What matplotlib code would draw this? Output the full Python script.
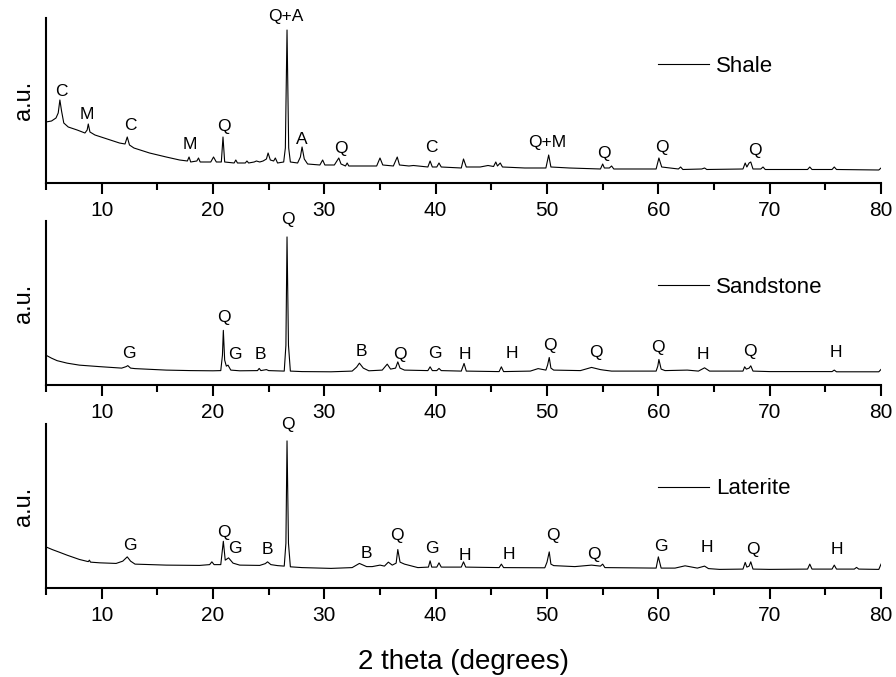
import numpy as np
import matplotlib
matplotlib.use("Agg")
import matplotlib.pyplot as plt
from matplotlib.ticker import MultipleLocator

plt.rcParams['font.family'] = ['Liberation Sans', 'DejaVu Sans']

# %% data: (2 theta, intensity a.u.)
shale = [(5.0, 61), (5.5, 62), (5.9, 65), (6.1, 70), (6.25, 83), (6.4, 72), (6.6, 60), (7.0, 56),
         (7.8, 53), (8.5, 50), (8.7, 53), (8.8, 59), (8.95, 51), (9.4, 48), (10.5, 44), (11.6, 40),
         (12.1, 39), (12.3, 46), (12.5, 38), (12.9, 35), (14.3, 30), (15.8, 26), (17.0, 23), (17.7, 22),
         (17.85, 26), (18.0, 21), (18.55, 22), (18.7, 25), (18.85, 21), (19.8, 21), (20.05, 26), (20.3, 21),
         (20.75, 21), (20.9, 46), (21.05, 21), (21.9, 20), (22.05, 23), (22.2, 20), (22.9, 20), (23.05, 22),
         (23.2, 20), (23.7, 21), (23.9, 22), (24.2, 21), (24.5, 22), (24.8, 24), (24.95, 30), (25.15, 23),
         (25.45, 22), (25.6, 25), (25.8, 20), (26.35, 21), (26.5, 35), (26.65, 153), (26.8, 35), (26.95, 21),
         (27.6, 20), (27.85, 26), (28.0, 36), (28.2, 24), (28.5, 19), (29.6, 18), (29.85, 23), (30.05, 18),
         (30.9, 18), (31.3, 25), (31.5, 19), (31.9, 17), (32.05, 20), (32.2, 17), (34.7, 17), (35.0, 25),
         (35.25, 18), (36.2, 17), (36.55, 26), (36.75, 18), (37.6, 17), (38.0, 17.5), (39.3, 16), (39.5, 22),
         (39.7, 16), (40.1, 16), (40.3, 20), (40.5, 16), (42.3, 15), (42.5, 24), (42.75, 16), (44.0, 16),
         (44.7, 17.5), (45.2, 16.5), (45.4, 21), (45.55, 17), (45.8, 20), (46.0, 16), (48.0, 15), (49.9, 15),
         (50.15, 28), (50.35, 16), (52.0, 15), (54.8, 14), (55.0, 19), (55.15, 15), (55.6, 15), (55.8, 17),
         (56.0, 14), (59.8, 14), (60.05, 25), (60.3, 16), (61.8, 14), (62.0, 16), (62.2, 13.5), (63.9, 14),
         (64.15, 15), (64.35, 13.5), (67.6, 14), (67.8, 20), (67.95, 16), (68.15, 20), (68.3, 21), (68.5, 14),
         (69.2, 14), (69.4, 16), (69.6, 13.5), (73.4, 13.5), (73.6, 16), (73.8, 13.5), (75.6, 13.5),
         (75.8, 16), (76.0, 13.5), (79.8, 13), (80.0, 15)]

sandstone = [(5.0, 30), (5.5, 27), (6.0, 24.5), (6.9, 22), (8.0, 20), (9.8, 18.5), (11.8, 17), (12.2, 18.5),
             (12.35, 19.5), (12.6, 17), (13.0, 16.5), (15.8, 15), (18.0, 14.5), (20.0, 14.3), (20.7, 14.5),
             (20.85, 30), (20.93, 55), (21.05, 25), (21.2, 19), (21.35, 20), (21.6, 15), (22.4, 14.3),
             (24.0, 14.5), (24.15, 16.7), (24.3, 14.5), (24.8, 15.5), (25.0, 14.5), (26.4, 14), (26.55, 40),
             (26.65, 149), (26.78, 40), (26.95, 14), (28.0, 13.5), (30.6, 13.3), (32.5, 14), (32.9, 18),
             (33.15, 22), (33.5, 17), (34.0, 14.3), (35.2, 15), (35.65, 21), (35.95, 16), (36.4, 17),
             (36.6, 23.3), (36.8, 17), (37.2, 15), (39.3, 14.5), (39.5, 18.3), (39.7, 14.5), (40.1, 14.5),
             (40.3, 16.7), (40.5, 14.5), (42.3, 14), (42.55, 21.7), (42.75, 14), (45.7, 13.5), (45.9, 18.3),
             (46.1, 13.5), (48.5, 14), (49.2, 16.5), (49.9, 15), (50.05, 20), (50.2, 27.7), (50.35, 17),
             (50.6, 15), (53.0, 14.5), (54.0, 17.7), (54.8, 15.5), (55.1, 15), (55.8, 14), (59.8, 14),
             (59.95, 19), (60.05, 25.7), (60.25, 16), (60.6, 14.5), (62.6, 15), (63.6, 14), (64.15, 17.3),
             (64.6, 14), (67.6, 14), (67.75, 18.3), (67.9, 16), (68.15, 17), (68.3, 19.3), (68.5, 14),
             (70.0, 13.5), (75.6, 13.5), (75.8, 15), (76.0, 13.3), (79.8, 13.3), (80.0, 15.7)]

laterite = [(5.0, 41.3), (5.6, 38.5), (6.2, 36), (6.9, 33), (8.0, 28.7), (8.8, 26.5), (8.9, 28), (9.0, 26),
            (9.85, 25.3), (11.3, 24.7), (11.9, 27), (12.3, 31.3), (12.6, 27), (13.0, 24), (15.8, 23),
            (18.8, 22.7), (19.7, 23.5), (19.9, 26.3), (20.1, 23.5), (20.7, 23.5), (20.93, 47), (21.1, 28),
            (21.4, 30.3), (21.8, 25), (22.4, 23), (24.2, 22.7), (24.7, 24.5), (24.9, 26.3), (25.2, 23.5),
            (25.8, 22.5), (26.4, 22), (26.55, 45), (26.65, 148), (26.78, 45), (26.95, 21.3), (28.0, 20.5),
            (30.6, 19.7), (32.5, 20.5), (33.15, 24.7), (33.8, 21.5), (34.3, 21.5), (35.0, 23), (35.4, 22),
            (35.75, 26), (36.1, 23), (36.45, 25), (36.6, 38.7), (36.8, 26), (37.2, 24), (38.4, 20.5),
            (39.35, 21), (39.5, 27.3), (39.65, 21), (40.1, 21), (40.3, 25.3), (40.5, 21), (42.3, 21),
            (42.5, 26.3), (42.7, 21), (45.7, 20.5), (45.9, 24), (46.1, 20.5), (49.8, 20.3), (50.0, 26),
            (50.2, 36.3), (50.35, 24), (50.6, 22.5), (52.5, 21.5), (54.0, 23), (54.8, 22), (55.0, 24),
            (55.2, 20.5), (59.8, 20), (60.0, 31.3), (60.25, 20), (61.5, 20), (62.4, 22.3), (63.5, 20),
            (64.15, 22), (64.5, 19.5), (65.5, 18.7), (67.6, 19), (67.8, 25.7), (67.95, 21), (68.15, 22),
            (68.3, 26.3), (68.5, 19), (70.0, 18.7), (73.4, 19), (73.6, 24), (73.8, 19), (75.6, 19),
            (75.8, 23), (76.0, 19), (77.6, 19), (77.8, 20.7), (78.0, 19), (79.8, 18.7), (80.0, 24)]

# phase labels: (text, 2 theta, height)
shale_labels = [("C", 6.35, 92), ("M", 8.7, 68), ("C", 12.55, 57), ("M", 17.9, 38), ("Q", 21.0, 56),
                ("Q+A", 26.5, 167), ("A", 28.0, 43), ("Q", 31.5, 34), ("C", 39.65, 35), ("Q+M", 50.0, 40),
                ("Q", 55.1, 29), ("Q", 60.3, 35), ("Q", 68.7, 32)]
sandstone_labels = [("G", 12.48, 31.7), ("Q", 20.95, 67.7), ("G", 21.98, 31), ("B", 24.3, 31), ("Q", 26.77, 166.7),
                    ("B", 33.3, 33.3), ("Q", 36.8, 31), ("G", 39.9, 31.7), ("H", 42.6, 31), ("H", 46.85, 31.7),
                    ("Q", 50.3, 40), ("Q", 54.35, 32.3), ("Q", 60.0, 37.7), ("H", 64.0, 30.7), ("Q", 68.2, 33.3),
                    ("H", 75.9, 32.7)]
laterite_labels = [("G", 12.55, 43), ("Q", 21.0, 56.3), ("G", 22.0, 39.7), ("B", 24.9, 38.7), ("Q", 26.7, 164),
                   ("B", 33.75, 34.7), ("Q", 36.5, 53), ("G", 39.7, 39.7), ("H", 42.65, 32.3), ("H", 46.55, 34),
                   ("Q", 50.5, 53), ("Q", 54.2, 34), ("G", 60.2, 42), ("H", 64.35, 40.7), ("Q", 68.45, 38.7),
                   ("H", 76.0, 38.7)]

names = ["Shale", "Sandstone", "Laterite"]
patterns = [shale, sandstone, laterite]
labels = [shale_labels, sandstone_labels, laterite_labels]

# %% figure
fig = plt.figure(figsize=(8.96, 6.77), dpi=100)
boxes = [[0.0513, 0.7297, 0.932, 0.2437],
         [0.0513, 0.4313, 0.932, 0.2422],
         [0.0513, 0.1315, 0.932, 0.2422]]
legend_y = [0.709, 0.596, 0.604]

for i in range(3):
    ax = fig.add_axes(boxes[i])
    xy = np.array(patterns[i])
    line, = ax.plot(xy[:, 0], xy[:, 1], color="black", lw=0.8)

    for txt, x, y in labels[i]:
        ax.text(x, y, txt, ha="center", va="center", fontsize=12.5, clip_on=False)

    ax.set_xlim(5, 80)
    ax.set_ylim(0, 165)
    ax.spines["top"].set_visible(False)
    ax.spines["right"].set_visible(False)
    ax.spines["left"].set_linewidth(1.5)
    ax.spines["bottom"].set_linewidth(1.5)
    ax.set_yticks([])
    ax.xaxis.set_major_locator(MultipleLocator(10))
    ax.xaxis.set_minor_locator(MultipleLocator(5))
    ax.tick_params(axis="x", which="major", length=8, width=1.5, labelsize=15, pad=5)
    ax.tick_params(axis="x", which="minor", length=5, width=1.5)
    ax.set_ylabel("a.u.", fontsize=17, labelpad=8)

    ax.legend([line], [names[i]], loc="center left", bbox_to_anchor=(0.733, legend_y[i]),
              frameon=False, handlelength=2.3, handletextpad=0.3, borderpad=0,
              borderaxespad=0, fontsize=16)

ax.set_xlabel("2 theta (degrees)", fontsize=20, labelpad=17)

plt.savefig("out.png", dpi=100)
